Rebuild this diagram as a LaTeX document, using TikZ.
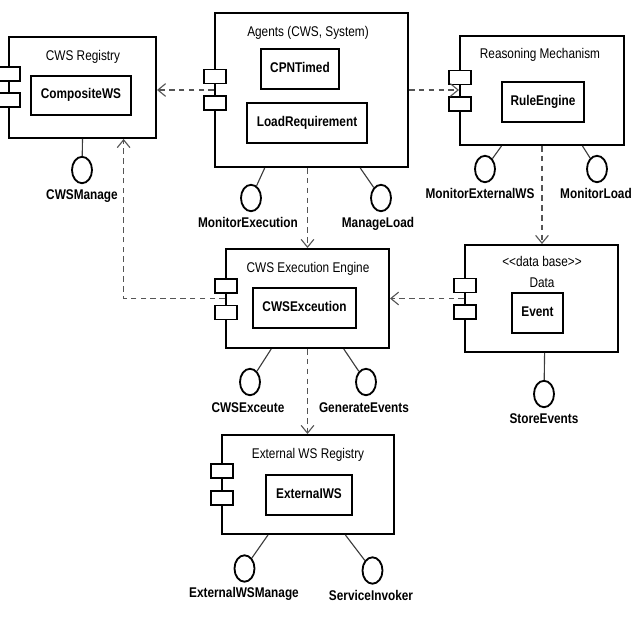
\documentclass[tikz,border=0pt]{standalone}
\usepackage{fontspec}
\setmainfont{Liberation Sans}[FakeStretch=0.84]
\usepackage{tikz}
\usetikzlibrary{shapes.geometric, arrows.meta, positioning, calc}
\definecolor{DiagBlack}{HTML}{000000}
\definecolor{DiagWhite}{HTML}{ffffff}
\definecolor{DiagGray}{HTML}{555555}
\definecolor{DiagStick}{HTML}{3c3c3c}
\tikzset{
    % Node styles - plain UML component look
    compbox/.style={
        rectangle,
        draw=DiagBlack,
        fill=DiagWhite,
        line width=1.4pt,
        inner sep=0pt
    },
    classbox/.style={
        rectangle,
        draw=DiagBlack,
        fill=DiagWhite,
        line width=1.4pt,
        inner sep=0pt,
        text height=0.72em,
        text depth=0.25em,
        font=\bfseries
    },
    portbox/.style={
        rectangle,
        draw=DiagBlack,
        fill=DiagWhite,
        line width=1.3pt,
        inner sep=0pt,
        minimum width=0.53cm,
        minimum height=0.35cm
    },
    titletext/.style={
        inner sep=0pt,
        anchor=base,
        font=\normalsize
    },
    iface/.style={
        ellipse,
        draw=DiagBlack,
        fill=DiagWhite,
        line width=1.3pt,
        inner sep=0pt,
        minimum width=0.5cm,
        minimum height=0.66cm
    },
    ifacelabel/.style={
        inner sep=0pt,
        anchor=base,
        font=\bfseries
    },
    boxsize/.style 2 args={
        minimum width=#1*0.025cm,
        minimum height=#2*0.025cm
    },
    % Arrow styles
    deparrow/.style={
        -{Straight Barb[length=5.5pt,width=9pt]},
        DiagGray,
        line width=0.8pt,
        dash pattern=on 4pt off 3pt
    },
    stick/.style={
        DiagStick,
        line width=0.8pt
    }
}

\begin{document}
\begin{tikzpicture}[x=0.025cm, y=-0.025cm]
    \useasboundingbox (0,0) rectangle (640,640);

    % components
    \node[compbox, boxsize={147}{101}] (reg) at (82.5,87.5) {};
    \node[compbox, boxsize={193}{154}] (agents) at (311.5,90) {};
    \node[compbox, boxsize={164}{109}] (reason) at (542,90.5) {};
    \node[compbox, boxsize={163}{99}] (exec) at (307.5,298.5) {};
    \node[compbox, boxsize={153}{107}] (data) at (541.5,298.5) {};
    \node[compbox, boxsize={172}{99}] (extreg) at (308,484.5) {};

    \node[titletext] (regtitle) at (83,60) {CWS Registry};
    \node[titletext] (agentstitle) at (308,36) {Agents (CWS, System)};
    \node[titletext] (reasontitle) at (540,58) {Reasoning Mechanism};
    \node[titletext] (exectitle) at (308,272) {CWS Execution Engine};
    \node[titletext] (datastereo) at (542,266) {<{}<data base>{}>};
    \node[titletext] (datatitle) at (542,287) {Data};
    \node[titletext] (extregtitle) at (308,458) {External WS Registry};

    % inner classes
    \node[classbox, boxsize={100}{39}] (compws) at (81,95.5) {CompositeWS};
    \node[classbox, boxsize={78}{40}] (cpn) at (300,69) {CPNTimed};
    \node[classbox, boxsize={120}{40}] (loadreq) at (307,123) {LoadRequirement};
    \node[classbox, boxsize={82}{40}] (rule) at (543,102) {RuleEngine};
    \node[classbox, boxsize={103}{40}] (cwsex) at (304.5,308) {CWSExceution};
    \node[classbox, boxsize={51}{40}] (event) at (537.5,313) {Event};
    \node[classbox, boxsize={86}{40}] (extws) at (309,495) {ExternaIWS};

    % provided interfaces
    \node[iface] (cwsmanage) at (82,170) {};
    \node[iface] (monexec) at (251,198) {};
    \node[iface] (manload) at (381,198) {};
    \node[iface] (monext) at (485,169) {};
    \node[iface] (monload) at (597,169) {};
    \node[iface] (cwsexecute) at (250,382) {};
    \node[iface] (genev) at (366,382) {};
    \node[iface] (storeev) at (544,394) {};
    \node[iface] (extman) at (244.5,568.5) {};
    \node[iface] (servinv) at (372.5,570.5) {};

    \draw[stick] (reg.south) -- (cwsmanage);
    \draw[stick] ($(agents.south west)!0.26!(agents.south east)$) -- (monexec);
    \draw[stick] ($(agents.south west)!0.75!(agents.south east)$) -- (manload);
    \draw[stick] ($(reason.south west)!0.256!(reason.south east)$) -- (monext);
    \draw[stick] ($(reason.south west)!0.744!(reason.south east)$) -- (monload);
    \draw[stick] ($(exec.south west)!0.28!(exec.south east)$) -- (cwsexecute);
    \draw[stick] ($(exec.south west)!0.72!(exec.south east)$) -- (genev);
    \draw[stick] ($(data.south west)!0.52!(data.south east)$) -- (storeev);
    \draw[stick] ($(extreg.south west)!0.27!(extreg.south east)$) -- (extman);
    \draw[stick] ($(extreg.south west)!0.715!(extreg.south east)$) -- (servinv);

    \node[ifacelabel] (cwsmanagelbl) at (82,199) {CWSManage};
    \node[ifacelabel] (monexeclbl) at (248,227) {MonitorExecution};
    \node[ifacelabel] (manloadlbl) at (378,227) {ManageLoad};
    \node[ifacelabel] (monextlbl) at (480,198) {MonitorExternalWS};
    \node[ifacelabel] (monloadlbl) at (596,198) {MonitorLoad};
    \node[ifacelabel] (cwsexecutelbl) at (248,412) {CWSExceute};
    \node[ifacelabel] (genevlbl) at (364,412) {GenerateEvents};
    \node[ifacelabel] (storeevlbl) at (544,423) {StoreEvents};
    \node[ifacelabel] (extmanlbl) at (244,597) {ExternalWSManage};
    \node[ifacelabel] (servinvlbl) at (371,600) {ServiceInvoker};

    % component ports
    \foreach \comp/\px/\ya/\yb in {reg/9/74/100, agents/215/76.5/103, reason/460/77.5/104,
                                   exec/226/286/312.5, data/465/285.5/312, extreg/222/471/498}{
        \node[portbox] (\comp p1) at (\px,\ya) {};
        \node[portbox] (\comp p2) at (\px,\yb) {};
    }

    % dependencies
    \draw[deparrow] (agents.west) -- (agents.west -| reg.east);
    \draw[deparrow] (agents.east) -- (agents.east -| reason.west);
    \draw[deparrow] (exec.north |- agents.south) -- (exec.north);
    \draw[deparrow] (reason.south) -- (reason.south |- data.north);
    \draw[deparrow] (data.west) -- (exec.east);
    \draw[deparrow] (exec.south) -- (exec.south |- extreg.north);
    \draw[deparrow] (exec.west) -| ($(reg.south west)!0.776!(reg.south east)$);
\end{tikzpicture}
\end{document}
